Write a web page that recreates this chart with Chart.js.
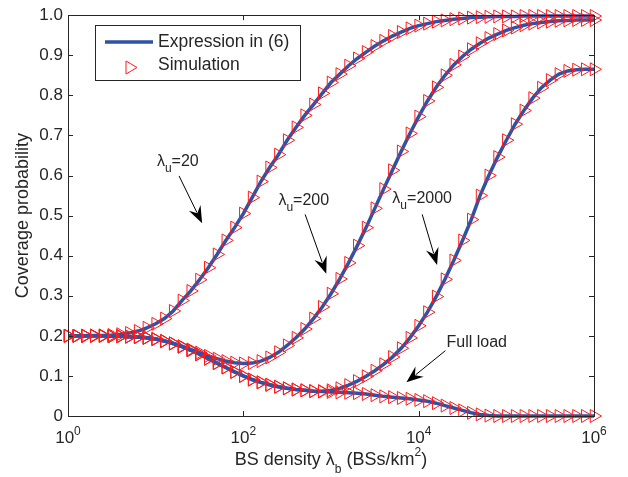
<!DOCTYPE html>
<html>
<head>
<meta charset="utf-8">
<script src="https://cdn.jsdelivr.net/npm/chart.js@4.4.1/dist/chart.umd.min.js"></script>
<style>
  html, body { margin: 0; padding: 0; background: #fff; }
  canvas { display: block; }
</style>
</head>
<body>
<canvas id="coverage" width="628" height="477"></canvas>
<script>
// BS density grid (BSs/km^2), 10 points per decade
const bsDensity = [
    1, 1.259, 1.585, 1.995, 2.512, 3.162, 3.981, 5.012, 6.31, 7.943,
    10, 12.59, 15.85, 19.95, 25.12, 31.62, 39.81, 50.12, 63.1, 79.43,
    100, 125.9, 158.5, 199.5, 251.2, 316.2, 398.1, 501.2, 631, 794.3,
    1000, 1259, 1585, 1995, 2512, 3162, 3981, 5012, 6310, 7943,
    10000, 12590, 15850, 19950, 25120, 31620, 39810, 50120, 63100, 79430,
    100000, 125900, 158500, 199500, 251200, 316200, 398100, 501200, 631000, 794300,
    1000000
]

// coverage probability, lambda_u = 20
const cov20 = [
    0.200, 0.200, 0.200, 0.201, 0.201, 0.202, 0.204, 0.207, 0.212, 0.220,
    0.230, 0.243, 0.262, 0.288, 0.312, 0.340, 0.370, 0.403, 0.438, 0.470,
    0.505, 0.545, 0.585, 0.620, 0.652, 0.688, 0.720, 0.750, 0.777, 0.805,
    0.832, 0.853, 0.874, 0.892, 0.908, 0.923, 0.936, 0.948, 0.958, 0.967,
    0.974, 0.979, 0.984, 0.987, 0.990, 0.992, 0.994, 0.995, 0.996, 0.997,
    0.997, 0.997, 0.998, 0.998, 0.998, 0.998, 0.998, 0.998, 0.998, 0.998,
    0.998
]

// lambda_u = 200
const cov200 = [
    0.200, 0.200, 0.200, 0.200, 0.200, 0.199, 0.199, 0.198, 0.197, 0.195,
    0.192, 0.187, 0.181, 0.174, 0.166, 0.158, 0.150, 0.143, 0.137, 0.133,
    0.131, 0.132, 0.137, 0.146, 0.159, 0.176, 0.195, 0.217, 0.243, 0.272,
    0.305, 0.342, 0.382, 0.425, 0.470, 0.518, 0.566, 0.613, 0.660, 0.705,
    0.747, 0.786, 0.820, 0.850, 0.876, 0.897, 0.915, 0.930, 0.943, 0.953,
    0.962, 0.969, 0.975, 0.979, 0.982, 0.984, 0.986, 0.987, 0.988, 0.988,
    0.988
]

// lambda_u = 2000
const cov2000 = [
    0.200, 0.200, 0.200, 0.200, 0.200, 0.199, 0.199, 0.198, 0.197, 0.195,
    0.192, 0.187, 0.181, 0.173, 0.164, 0.154, 0.143, 0.132, 0.121, 0.110,
    0.100, 0.091, 0.084, 0.078, 0.073, 0.069, 0.066, 0.064, 0.062, 0.062,
    0.064, 0.069, 0.077, 0.087, 0.099, 0.113, 0.129, 0.147, 0.169, 0.195,
    0.225, 0.259, 0.298, 0.341, 0.388, 0.438, 0.490, 0.550, 0.600, 0.646,
    0.688, 0.728, 0.762, 0.793, 0.819, 0.838, 0.853, 0.861, 0.864, 0.865,
    0.865
]

// full load
const covFull = [
    0.200, 0.200, 0.200, 0.200, 0.200, 0.199, 0.199, 0.198, 0.197, 0.195,
    0.192, 0.187, 0.181, 0.173, 0.164, 0.154, 0.143, 0.132, 0.121, 0.110,
    0.100, 0.091, 0.084, 0.078, 0.073, 0.069, 0.066, 0.064, 0.062, 0.061,
    0.060, 0.059, 0.058, 0.057, 0.055, 0.052, 0.049, 0.047, 0.045, 0.043,
    0.040, 0.037, 0.032, 0.026, 0.020, 0.014, 0.008, 0.004, 0.001, 0.000,
    0.000, 0.000, 0.000, 0.000, 0.000, 0.000, 0.000, 0.000, 0.000, 0.000,
    0.000
]

const xTickExps = [0, 2, 4, 6]

const FONT = "'Liberation Sans', Arial, Helvetica, sans-serif"
const INK = "#262626"
const BLUE = "#2f51a6"
const RED = "#ff1a1a"

const curves = [cov20, cov200, cov2000, covFull]

const datasets = []
curves.forEach(values => {
    const pts = values.map((v, i) => ({ x: bsDensity[i], y: v }))
    datasets.push({
        label: "Simulation",
        data: pts,
        showLine: false,
        pointStyle: "triangle",
        rotation: 90,
        pointRadius: 7.5,
        pointHoverRadius: 7.5,
        pointBorderWidth: 1,
        pointBorderColor: RED,
        pointBackgroundColor: "rgba(0,0,0,0)",
        clip: false,
        order: 0
    })
    datasets.push({
        label: "Expression in (6)",
        data: pts,
        showLine: true,
        borderColor: BLUE,
        borderWidth: 3.5,
        pointRadius: 0,
        tension: 0,
        clip: false,
        order: 1
    })
})

// text made of pieces: [text, size, dy]
function richText(ctx, parts, x, y, align) {
    let w = 0
    parts.forEach(p => {
        ctx.font = p[1] + "px " + FONT
        w += ctx.measureText(p[0]).width
    })
    let cx = align === "center" ? x - w / 2 : x
    ctx.textAlign = "left"
    ctx.textBaseline = "alphabetic"
    parts.forEach(p => {
        ctx.font = p[1] + "px " + FONT
        ctx.fillText(p[0], cx, y + (p[2] || 0))
        cx += ctx.measureText(p[0]).width
    })
}

function arrow(ctx, x0, y0, x1, y1) {
    const a = Math.atan2(y1 - y0, x1 - x0)
    const c = Math.cos(a), s = Math.sin(a)
    const len = 17, half = 6.5
    ctx.beginPath()
    ctx.moveTo(x0, y0)
    ctx.lineTo(x1 - c * len * 0.7, y1 - s * len * 0.7)
    ctx.lineWidth = 1
    ctx.strokeStyle = "#000"
    ctx.stroke()
    ctx.beginPath()
    ctx.moveTo(x1, y1)
    ctx.lineTo(x1 - c * len - s * half, y1 - s * len + c * half)
    ctx.lineTo(x1 - c * len * 0.65, y1 - s * len * 0.65)
    ctx.lineTo(x1 - c * len + s * half, y1 - s * len - c * half)
    ctx.closePath()
    ctx.fillStyle = "#000"
    ctx.fill()
}

// callouts, positions given as [log10 x, y]
const callouts = [
    { sub: "20", text: [1.014, 0.624], from: [1.267, 0.599], to: [1.53, 0.481] },
    { sub: "200", text: [2.40, 0.527], from: [2.705, 0.503], to: [2.946, 0.355] },
    { sub: "2000", text: [3.70, 0.532], from: [4.04, 0.503], to: [4.21, 0.377] },
    { plain: "Full load", text: [4.317, 0.173], from: [4.305, 0.163], to: [3.86, 0.084] }
]

const decorations = {
    id: "decorations",
    afterDraw(chart) {
        const ctx = chart.ctx
        const a = chart.chartArea
        const xs = chart.scales.x, ys = chart.scales.y
        const px = lx => xs.getPixelForValue(Math.pow(10, lx))
        ctx.save()

        // box and inward ticks
        ctx.strokeStyle = INK
        ctx.lineWidth = 1
        ctx.strokeRect(Math.round(a.left) + 0.5, Math.round(a.top) + 0.5,
            Math.round(a.right - a.left), Math.round(a.bottom - a.top))
        ctx.beginPath()
        for (let k = 0; k <= 10; k++) {
            const y = Math.round(ys.getPixelForValue(k / 10)) + 0.5
            ctx.moveTo(a.left, y); ctx.lineTo(a.left + 5, y)
            ctx.moveTo(a.right, y); ctx.lineTo(a.right - 5, y)
        }
        xTickExps.forEach(e => {
            const x = Math.round(px(e)) + 0.5
            ctx.moveTo(x, a.bottom); ctx.lineTo(x, a.bottom - 5)
            ctx.moveTo(x, a.top); ctx.lineTo(x, a.top + 5)
        })
        ctx.stroke()

        // x tick labels 10^n
        ctx.fillStyle = INK
        xTickExps.forEach(e => {
            richText(ctx, [["10", 17], [String(e), 12, -8]], px(e), 443, "center")
        })

        // axis titles
        richText(ctx, [["BS density \u03bb", 18], ["b", 12, 8], [" (BSs/km", 18], ["2", 12, -9], [")", 18]],
            (a.left + a.right) / 2, 465, "center")
        ctx.save()
        ctx.translate(28, (a.top + a.bottom) / 2)
        ctx.rotate(-Math.PI / 2)
        richText(ctx, [["Coverage probability", 18]], 0, 0, "center")
        ctx.restore()

        // callouts
        callouts.forEach(c => {
            ctx.fillStyle = INK
            const tx = px(c.text[0]), ty = ys.getPixelForValue(c.text[1])
            if (c.plain) richText(ctx, [[c.plain, 16]], tx, ty, "left")
            else richText(ctx, [["\u03bb", 16], ["u", 12, 6], ["=" + c.sub, 16]], tx, ty, "left")
            arrow(ctx, px(c.from[0]), ys.getPixelForValue(c.from[1]),
                px(c.to[0]), ys.getPixelForValue(c.to[1]))
        })

        // legend
        ctx.fillStyle = "#fff"
        ctx.fillRect(95, 25, 205, 55)
        ctx.strokeStyle = INK
        ctx.lineWidth = 1
        ctx.strokeRect(95.5, 25.5, 205, 55)
        ctx.beginPath()
        ctx.moveTo(105, 42); ctx.lineTo(153, 42)
        ctx.strokeStyle = BLUE
        ctx.lineWidth = 3.5
        ctx.stroke()
        ctx.beginPath()
        ctx.moveTo(137, 67.5); ctx.lineTo(126, 61); ctx.lineTo(126, 74); ctx.closePath()
        ctx.strokeStyle = RED
        ctx.lineWidth = 1
        ctx.stroke()
        ctx.fillStyle = INK
        richText(ctx, [["Expression in (6)", 17.5]], 158, 47, "left")
        richText(ctx, [["Simulation", 17.5]], 158, 70, "left")

        ctx.restore()
    }
}

new Chart(document.getElementById("coverage"), {
    type: "scatter",
    data: { datasets: datasets },
    options: {
        responsive: false,
        animation: false,
        devicePixelRatio: 1,
        layout: { padding: { left: 0, top: 10, right: 34, bottom: 0 } },
        plugins: { legend: { display: false }, tooltip: { enabled: false } },
        scales: {
            x: {
                type: "logarithmic",
                min: 1,
                max: 1000000,
                ticks: { display: false },
                grid: { display: false, drawTicks: false },
                border: { display: false },
                afterFit: s => { s.height = 61 }
            },
            y: {
                min: 0,
                max: 1,
                ticks: { stepSize: 0.1, padding: 5, color: INK, font: { family: FONT, size: 17 } },
                grid: { display: false, drawTicks: false },
                border: { display: false },
                afterFit: s => { s.width = 68 }
            }
        }
    },
    plugins: [decorations]
})
</script>
</body>
</html>
